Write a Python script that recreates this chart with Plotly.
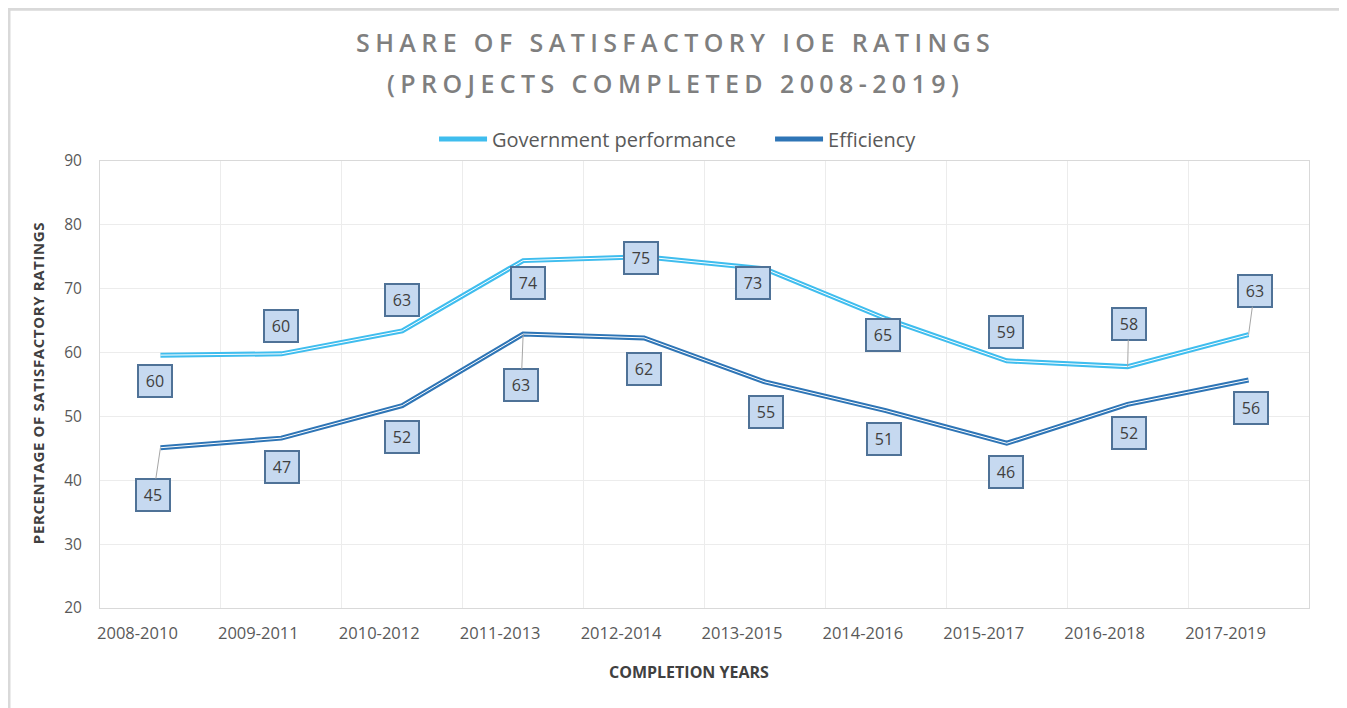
import plotly.graph_objects as go

# ---- data ----
categories = ["2008-2010", "2009-2011", "2010-2012", "2011-2013", "2012-2014",
              "2013-2015", "2014-2016", "2015-2017", "2016-2018", "2017-2019"]
gov_performance = [59.6, 59.8, 63.4, 74.4, 75.0, 73.1, 65.3, 58.7, 57.8, 62.8]
efficiency = [45.1, 46.6, 51.7, 62.9, 62.3, 55.4, 50.9, 45.8, 51.9, 55.7]
y_ticks = [20, 30, 40, 50, 60, 70, 80, 90]
title_lines = ["SHARE OF SATISFACTORY IOE RATINGS", "(PROJECTS COMPLETED 2008-2019)"]

# ---- label placement (pixel offsets: dx right, dy down; leader flag) ----
gov_label_pos = [(-5, 26, False), (0, -28, False), (0, -31, False), (5, 22, False), (-3, 1, False),
                 (-12, 14, False), (-3, 16, False), (-1, -29, False), (1, -43, True), (6, -44, True)]
eff_label_pos = [(-7, 47, True), (1, 29, False), (0, 31, False), (-2, 51, True), (0, 31, False),
                 (1, 30, False), (-2, 28, False), (-1, 29, False), (1, 29, False), (2, 28, False)]

GOV_COLOR = "#3fbdee"
EFF_COLOR = "#2e75b6"
FONT = "Open Sans"

fig = go.Figure()
for name, vals, col in [("Government performance", gov_performance, GOV_COLOR),
                        ("Efficiency", efficiency, EFF_COLOR)]:
    fig.add_trace(go.Scatter(x=categories, y=vals, mode="lines", name=name,
                             line=dict(color=col, width=5), hoverinfo="skip"))
    fig.add_trace(go.Scatter(x=categories, y=vals, mode="lines", showlegend=False,
                             line=dict(color="white", width=1), hoverinfo="skip"))

annotations = []
for vals, pos in [(gov_performance, gov_label_pos), (efficiency, eff_label_pos)]:
    for cat, v, (dx, dy, leader) in zip(categories, vals, pos):
        a = dict(x=cat, y=v, xref="x", yref="y", text=f"{round(v)}",
                 font=dict(family=FONT, size=16, color="#404040"),
                 bgcolor="#c6d9f0", bordercolor="#4f7297", borderwidth=2, borderpad=2,
                 width=28, height=26)
        if leader:
            a.update(showarrow=True, arrowhead=0, arrowwidth=1, arrowcolor="#a6a6a6",
                     ax=dx, ay=dy, axref="pixel", ayref="pixel")
        else:
            a.update(showarrow=False, xshift=dx, yshift=-dy)
        annotations.append(a)

# title (two lines, letter-spaced)
for txt, ty in zip(title_lines, [1.266, 1.174]):
    annotations.append(dict(text=f'<span style="letter-spacing:5.4px">{txt}</span>',
                            xref="paper", yref="paper", x=0.4756, y=ty,
                            xanchor="center", yanchor="middle", showarrow=False,
                            font=dict(family=FONT, size=25, color="#7f7f7f", weight=600)))

annotations.append(dict(text='<b><span style="letter-spacing:0.6px">PERCENTAGE OF SATISFACTORY RATINGS</span></b>',
                        xref="paper", yref="paper",
                        x=-0.0513, y=0.503, xanchor="center", yanchor="middle",
                        textangle=-90, showarrow=False,
                        font=dict(family=FONT, size=15, color="#404040")))
annotations.append(dict(text="<b>COMPLETION YEARS</b>", xref="paper", yref="paper",
                        x=0.487, y=-0.143, xanchor="center", yanchor="middle", showarrow=False,
                        font=dict(family=FONT, size=16, color="#404040")))

fig.update_layout(
    width=1339, height=700,
    margin=dict(l=92, r=38, t=153, b=100),
    paper_bgcolor="white", plot_bgcolor="white",
    legend=dict(orientation="h", x=0.2763, xanchor="left", y=1.049, yanchor="middle",
                font=dict(family=FONT, size=20, color="#595959"), itemwidth=48,
                entrywidth=273, entrywidthmode="pixels"),
    annotations=annotations,
    shapes=[dict(type="rect", xref="paper", yref="paper", x0=-0.0761, x1=1.029,
                 y0=-0.3, y1=1.342, line=dict(color="#d9d9d9", width=5), layer="below")],
    showlegend=True,
)
fig.update_xaxes(type="category", range=[-0.5, 9.5], tickson="boundaries",
                 showgrid=True, gridcolor="#ececec", gridwidth=1,
                 showline=True, linecolor="#d9d9d9", linewidth=1, mirror=True,
                 ticks="", ticklabelshift=-23, ticklabelstandoff=10,
                 tickfont=dict(family=FONT, size=16.5, color="#595959"))
fig.update_yaxes(range=[20, 90], tickvals=y_ticks, showgrid=True, gridcolor="#ececec",
                 showline=True, linecolor="#d9d9d9", linewidth=1, mirror=True,
                 zeroline=False, ticks="", ticklabelstandoff=14,
                 tickfont=dict(family=FONT, size=15.5, color="#595959"))

fig.write_html("out.html")
